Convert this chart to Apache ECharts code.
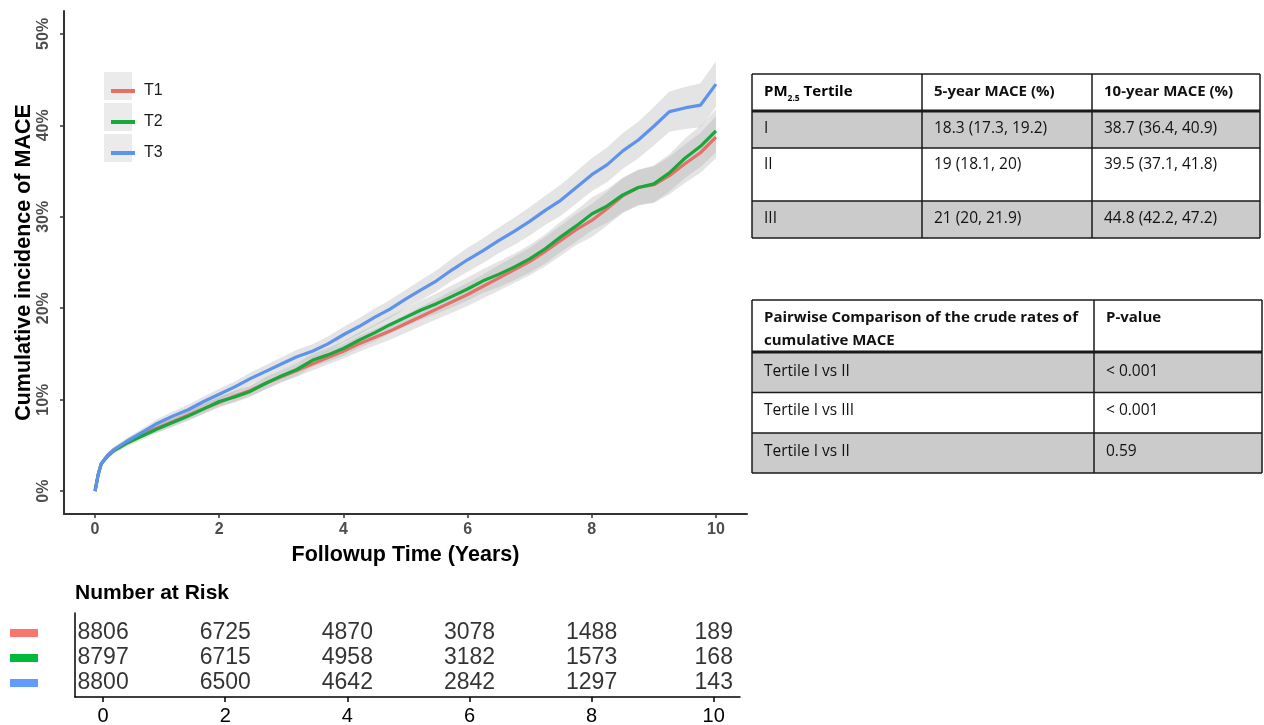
<!DOCTYPE html>
<html>
<head>
<meta charset="utf-8">
<script src="https://cdn.jsdelivr.net/npm/echarts@6/dist/echarts.min.js"></script>
<style>html,body{margin:0;padding:0;background:#fff;}#c{width:1264px;height:725px;}</style>
</head>
<body>
<div id="c"></div>
<script>
// ---- data ----
const times = [0,0.05,0.1,0.2,0.3,0.5,0.75,1,1.25,1.5,1.75,2,2.25,2.5,2.75,3,3.25,3.5,3.75,4,4.25,4.5,4.75,5,5.25,5.5,5.75,6,6.25,6.5,6.75,7,7.25,7.5,7.75,8,8.25,8.5,8.75,9,9.25,9.5,9.75,10];
const incT1 = [0,1.8,3.0,3.9,4.5,5.3,6.2,6.9,7.6,8.3,9.0,9.7,10.4,11.0,11.8,12.5,13.2,13.9,14.6,15.3,16.1,16.8,17.5,18.3,19.1,19.9,20.7,21.5,22.4,23.3,24.2,25.1,26.2,27.4,28.6,29.6,30.9,32.3,33.2,33.5,34.5,35.8,37.0,38.7];
const incT2 = [0,1.8,3.0,3.8,4.4,5.2,6.0,6.8,7.5,8.2,9.0,9.8,10.3,10.9,11.8,12.6,13.3,14.3,14.9,15.6,16.5,17.3,18.2,19.0,19.8,20.5,21.3,22.1,23.0,23.7,24.5,25.4,26.5,27.8,29.0,30.3,31.2,32.4,33.2,33.6,34.8,36.4,37.7,39.4];
const incT3 = [0,1.8,3.0,3.9,4.5,5.4,6.4,7.4,8.2,8.9,9.8,10.6,11.4,12.3,13.1,13.9,14.7,15.3,16.1,17.1,18.0,19.0,19.9,21.0,22.0,23.0,24.2,25.3,26.3,27.4,28.4,29.5,30.7,31.8,33.2,34.6,35.7,37.2,38.4,39.9,41.5,41.9,42.2,44.5];
const ciT1 = [0,0.2,0.25,0.3,0.3,0.35,0.4,0.45,0.5,0.5,0.55,0.55,0.6,0.6,0.65,0.65,0.7,0.7,0.75,0.8,0.85,0.9,0.95,1.0,1.05,1.1,1.2,1.25,1.3,1.4,1.45,1.5,1.6,1.65,1.7,1.8,1.85,1.9,1.95,2.0,2.05,2.1,2.2,2.3];
const ciT2 = [0,0.2,0.25,0.3,0.3,0.35,0.4,0.45,0.5,0.5,0.55,0.55,0.6,0.6,0.65,0.65,0.7,0.7,0.75,0.8,0.85,0.9,0.95,1.0,1.05,1.1,1.2,1.25,1.3,1.4,1.45,1.5,1.6,1.65,1.7,1.8,1.85,1.9,1.95,2.0,2.05,2.15,2.25,2.35];
const ciT3 = [0,0.2,0.25,0.3,0.3,0.35,0.4,0.45,0.5,0.55,0.55,0.6,0.6,0.65,0.7,0.7,0.75,0.75,0.8,0.85,0.9,0.95,1.0,1.0,1.1,1.15,1.2,1.3,1.35,1.4,1.5,1.55,1.6,1.7,1.75,1.8,1.9,1.95,2.0,2.1,2.2,2.3,2.4,2.5];
const groupNames = ['T1','T2','T3'];
const xTicks = [0,2,4,6,8,10];
const yTicks = [0,10,20,30,40,50];
const riskTimes = [0,2,4,6,8,10];
const riskT1 = [8806,6725,4870,3078,1488,189];
const riskT2 = [8797,6715,4958,3182,1573,168];
const riskT3 = [8800,6500,4642,2842,1297,143];
const table1Header = ['PM2.5 Tertile','5-year MACE (%)','10-year MACE (%)'];
const table1Rows = [
  ['I','18.3 (17.3, 19.2)','38.7 (36.4, 40.9)'],
  ['II','19 (18.1, 20)','39.5 (37.1, 41.8)'],
  ['III','21 (20, 21.9)','44.8 (42.2, 47.2)']
];
const table2Header = ['Pairwise Comparison of the crude rates of\ncumulative MACE','P-value'];
const table2Rows = [
  ['Tertile I vs II','< 0.001'],
  ['Tertile I vs III','< 0.001'],
  ['Tertile I vs II','0.59']
];

// ---- styles ----
const lineColors = ['#E5706A','#17A83B','#5D93EC'];
const keyColors = ['#F8766D','#00BA38','#619CFF'];
const FONT = '"Liberation Sans", Arial, sans-serif';
const TFONT = '"Open Sans", "Noto Sans", sans-serif';
const incs = [incT1, incT2, incT3];
const cis = [ciT1, ciT2, ciT3];

const chart = echarts.init(document.getElementById('c'));

function bandSeries(k) {
  return {
    type: 'custom', xAxisIndex: 0, yAxisIndex: 0, silent: true, z: 1,
    data: [[0, 0]],
    clip: true,
    renderItem: function (params, api) {
      const pts = [];
      for (let i = 0; i < times.length; i++) pts.push(api.coord([times[i], incs[k][i] + cis[k][i]]));
      for (let i = times.length - 1; i >= 0; i--) pts.push(api.coord([times[i], Math.max(0, incs[k][i] - cis[k][i])]));
      return { type: 'polygon', shape: { points: pts }, style: { fill: 'rgba(165,165,165,0.3)' } };
    }
  };
}

const series = [];
for (let k = 0; k < 3; k++) series.push(bandSeries(k));
for (let k = 0; k < 3; k++) {
  series.push({
    name: groupNames[k], type: 'line', xAxisIndex: 0, yAxisIndex: 0,
    data: times.map((t, i) => [t, incs[k][i]]),
    showSymbol: false, symbol: 'none', z: 3 + k,
    lineStyle: { color: lineColors[k], width: 3.2 },
    itemStyle: { color: lineColors[k] },
    emphasis: { disabled: true }
  });
}
const risks = [riskT1, riskT2, riskT3];
for (let k = 0; k < 3; k++) {
  series.push({
    type: 'scatter', xAxisIndex: 1, yAxisIndex: 1, symbolSize: 0, silent: true,
    data: riskTimes.map((t, i) => [t, 3 - k, risks[k][i]]),
    label: { show: true, position: 'inside', formatter: p => String(p.value[2]), color: '#000', fontSize: 23, fontFamily: FONT }
  });
}

// legend key boxes + tables as graphics
const graphics = [];
const legendCenters = [86, 117, 148];
legendCenters.forEach(cy => graphics.push({ type: 'rect', left: 104, top: cy - 14, shape: { width: 28, height: 28 }, style: { fill: '#ebebeb' }, z: -1 }));

function addTable(cols, rows, fills, header, body, textTops, thickY) {
  for (let r = 0; r < rows.length - 1; r++) {
    graphics.push({ type: 'rect', shape: { x: cols[0], y: rows[r], width: cols[cols.length - 1] - cols[0], height: rows[r + 1] - rows[r] }, style: { fill: fills[r] }, z: 0 });
  }
  rows.forEach((y, i) => graphics.push({ type: 'line', shape: { x1: cols[0], y1: y, x2: cols[cols.length - 1], y2: y }, style: { stroke: '#1a1a1a', lineWidth: y === thickY ? 3 : 1.5 }, z: 2 }));
  cols.forEach(x => graphics.push({ type: 'line', shape: { x1: x, y1: rows[0], x2: x, y2: rows[rows.length - 1] }, style: { stroke: '#1a1a1a', lineWidth: 1.5 }, z: 2 }));
  const all = [header].concat(body);
  all.forEach((row, r) => {
    row.forEach((txt, c) => {
      const isHead = r === 0;
      let style;
      if (txt === 'PM2.5 Tertile') {
        style = { text: '{b|PM}{s|2.5}{b| Tertile}', x: cols[c] + 12, y: textTops[r], verticalAlign: 'top',
          rich: { b: { fontSize: 15, fontWeight: 'bold', fontFamily: TFONT, lineHeight: 23, fill: '#000' },
                  s: { fontSize: 8.5, fontWeight: 'bold', fontFamily: TFONT, lineHeight: 12, verticalAlign: 'bottom', fill: '#000' } } };
      } else {
        style = { text: txt, x: cols[c] + 12, y: textTops[r], verticalAlign: 'top', fontSize: isHead ? 15 : 15.5, lineHeight: 23,
          fontWeight: isHead ? 'bold' : 'normal', fontFamily: TFONT, fill: '#111' };
      }
      graphics.push({ type: 'text', style: style, z: 3 });
    });
  });
}
addTable([752, 922, 1092, 1260], [74, 111, 148, 201, 238], ['#ffffff', '#cbcbcb', '#ffffff', '#cbcbcb'], table1Header, table1Rows, [80.5, 117.5, 153, 207.5], 111);
addTable([752, 1094, 1262], [300, 352, 392.5, 433, 473], ['#ffffff', '#cbcbcb', '#ffffff', '#cbcbcb'], table2Header, table2Rows, [306.5, 360.5, 399.5, 440.5], 352);

const option = {
  animation: false,
  backgroundColor: '#ffffff',
  textStyle: { fontFamily: FONT },
  title: { text: 'Number at Risk', left: 75, top: 583, padding: 0, textStyle: { fontSize: 21, fontWeight: 'bold', color: '#000', fontFamily: FONT } },
  legend: groupNames.map((n, k) => ({
    data: [n], orient: 'vertical', left: 106, top: legendCenters[k] - 8, itemWidth: 24, itemHeight: 4, icon: 'rect',
    selectedMode: false,
    textStyle: { fontSize: 16, color: '#1a1a1a', fontFamily: FONT, lineHeight: 16, padding: [0, 0, 0, 4] }
  })),
  grid: [
    { left: 64, top: 11, width: 683, height: 503, outerBoundsMode: 'none', containLabel: false },
    { left: 75, top: 613, width: 665, height: 84, outerBoundsMode: 'none', containLabel: false }
  ],
  xAxis: [
    { type: 'value', gridIndex: 0, min: -0.5, max: 10.5,
      name: 'Followup Time (Years)', nameLocation: 'middle', nameGap: 30,
      nameTextStyle: { fontSize: 21.5, fontWeight: 'bold', color: '#000', fontFamily: FONT },
      axisLine: { show: true, onZero: false, lineStyle: { color: '#333', width: 2 } },
      axisTick: { show: true, length: 4, customValues: xTicks, lineStyle: { color: '#333', width: 1.5 } },
      axisLabel: { customValues: xTicks, fontSize: 16, fontWeight: 'bold', color: '#4d4d4d', margin: 8, fontFamily: FONT },
      splitLine: { show: false } },
    { type: 'value', gridIndex: 1, min: -0.46, max: 10.43,
      axisLine: { show: true, onZero: false, lineStyle: { color: '#000', width: 1.5 } },
      axisTick: { show: true, length: 5, customValues: riskTimes, lineStyle: { color: '#000', width: 1.5 } },
      axisLabel: { customValues: riskTimes, fontSize: 20, color: '#000', margin: 9, fontFamily: FONT },
      splitLine: { show: false } }
  ],
  yAxis: [
    { type: 'value', gridIndex: 0, min: -2.5, max: 52.5,
      name: 'Cumulative incidence of MACE', nameLocation: 'middle', nameGap: 29, nameRotate: 90, nameMoveOverlap: false,
      nameTextStyle: { fontSize: 21.5, fontWeight: 'bold', color: '#000', fontFamily: FONT },
      axisLine: { show: true, onZero: false, lineStyle: { color: '#333', width: 2 } },
      axisTick: { show: true, length: 4, customValues: yTicks, lineStyle: { color: '#333', width: 1.5 } },
      axisLabel: { customValues: yTicks, rotate: 90, formatter: v => v + '%', fontSize: 16, fontWeight: 'bold', color: '#4d4d4d', margin: 12, fontFamily: FONT },
      splitLine: { show: false } },
    { type: 'value', gridIndex: 1, min: 0.44, max: 3.8,
      axisLine: { show: true, onZero: false, lineStyle: { color: '#000', width: 1.5 } },
      axisTick: { show: false },
      axisLabel: { customValues: [1, 2, 3], margin: 37, formatter: v => '{k' + v + '|}',
        rich: { k3: { backgroundColor: keyColors[0], width: 28, height: 8 }, k2: { backgroundColor: keyColors[1], width: 28, height: 8 }, k1: { backgroundColor: keyColors[2], width: 28, height: 8 } } },
      splitLine: { show: false } }
  ],
  graphic: graphics,
  series: series
};
chart.setOption(option);
</script>
</body>
</html>
